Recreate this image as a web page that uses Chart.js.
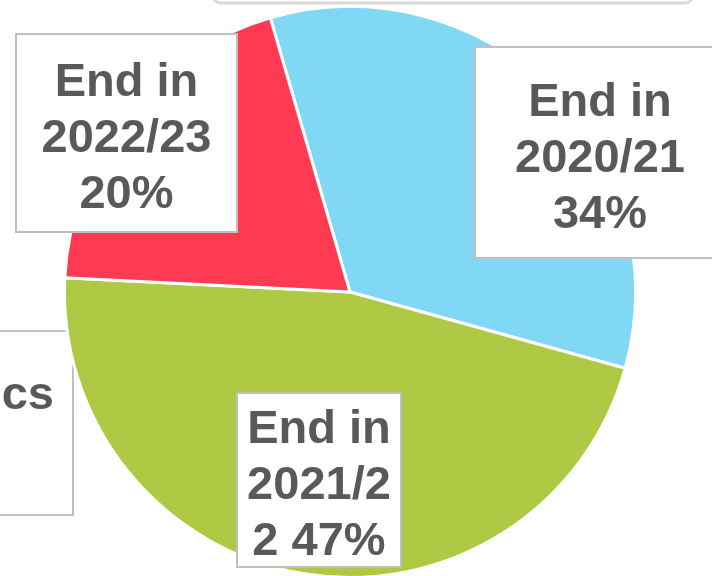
<!DOCTYPE html>
<html>
<head>
<meta charset="utf-8">
<script src="https://cdn.jsdelivr.net/npm/chart.js@4"></script>
<style>
html,body{margin:0;padding:0;overflow:hidden;background:#fff;width:712px;height:576px;}
canvas{display:block;}
</style>
</head>
<body>
<canvas id="c" width="712" height="600"></canvas>
<script>
// ---- data ----
const categories = ["End in 2020/21", "End in 2021/22", "End in 2022/23"];
const shares = [33.8, 46.5, 19.7];
const pctLabels = ["34%", "47%", "20%"];
const sliceColors = ["#80D8F5", "#AFC944", "#FF3A52"];
const sideLabel = "cs";

const FONT = "bold 47px 'Liberation Sans', Arial, sans-serif";
const TEXT_COLOR = "#595959";
const BOX_BORDER = "#c0c0c0";

// label box geometry relative to pie centre (px)
const labelBoxes = [
  {dx: 125, dy: -245, w: 250, h: 211},
  {dx: -113, dy: 101, w: 164, h: 174},
  {dx: -334, dy: -258, w: 221, h: 198}
];

function wrap(ctx, text, maxW) {
  const words = text.split(" ");
  const lines = [];
  let cur = "";
  for (const w of words) {
    const trial = cur ? cur + " " + w : w;
    if (ctx.measureText(trial).width <= maxW) { cur = trial; continue; }
    if (cur) { lines.push(cur); cur = ""; }
    if (ctx.measureText(w).width <= maxW) { cur = w; continue; }
    let part = "";
    for (const ch of w) {
      if (ctx.measureText(part + ch).width <= maxW) part += ch;
      else { lines.push(part); part = ch; }
    }
    cur = part;
  }
  if (cur) lines.push(cur);
  return lines;
}

const decorPlugin = {
  id: "decor",
  beforeDatasetsDraw(chart) {
    const ctx = chart.ctx;
    const arc = chart.getDatasetMeta(0).data[0];
    const cx = arc.x, cy = arc.y;
    ctx.save();
    // partial box at top (mostly outside view)
    ctx.strokeStyle = "#d9d9d9";
    ctx.lineWidth = 3;
    ctx.beginPath();
    ctx.roundRect(cx - 137, cy - 589, 480, 300, 8);
    ctx.stroke();
    // partial side label box, behind pie
    ctx.fillStyle = "#fff";
    ctx.strokeStyle = BOX_BORDER;
    ctx.lineWidth = 2;
    ctx.fillRect(cx - 560, cy + 39, 283, 184);
    ctx.strokeRect(cx - 560, cy + 39, 283, 184);
    ctx.font = FONT;
    ctx.fillStyle = TEXT_COLOR;
    ctx.textAlign = "right";
    ctx.textBaseline = "alphabetic";
    ctx.fillText(sideLabel, cx - 296, cy + 117);
    ctx.restore();
  },
  afterDatasetsDraw(chart) {
    const ctx = chart.ctx;
    const arc = chart.getDatasetMeta(0).data[0];
    const cx = arc.x, cy = arc.y;
    ctx.save();
    ctx.font = FONT;
    categories.forEach((cat, i) => {
      const b = labelBoxes[i];
      const x = cx + b.dx, y = cy + b.dy;
      ctx.fillStyle = "#fff";
      ctx.fillRect(x, y, b.w, b.h);
      ctx.strokeStyle = BOX_BORDER;
      ctx.lineWidth = 2;
      ctx.strokeRect(x, y, b.w, b.h);
      const lines = wrap(ctx, cat + " " + pctLabels[i], b.w - 14);
      ctx.fillStyle = TEXT_COLOR;
      ctx.textAlign = "center";
      ctx.textBaseline = "alphabetic";
      const lh = 56;
      const midY = y + b.h / 2 + 19;
      lines.forEach((ln, k) => {
        ctx.fillText(ln, x + b.w / 2, midY + (k - (lines.length - 1) / 2) * lh);
      });
    });
    ctx.restore();
  }
};

new Chart(document.getElementById("c"), {
  type: "pie",
  data: {
    labels: categories,
    datasets: [{
      data: shares,
      backgroundColor: sliceColors,
      borderColor: "#ffffff",
      borderWidth: 3
    }]
  },
  options: {
    responsive: false,
    animation: false,
    rotation: -16.2,
    layout: {padding: {left: 63, right: 75, top: 5, bottom: 21}},
    plugins: {legend: {display: false}, tooltip: {enabled: false}}
  },
  plugins: [decorPlugin]
});
</script>
</body>
</html>
